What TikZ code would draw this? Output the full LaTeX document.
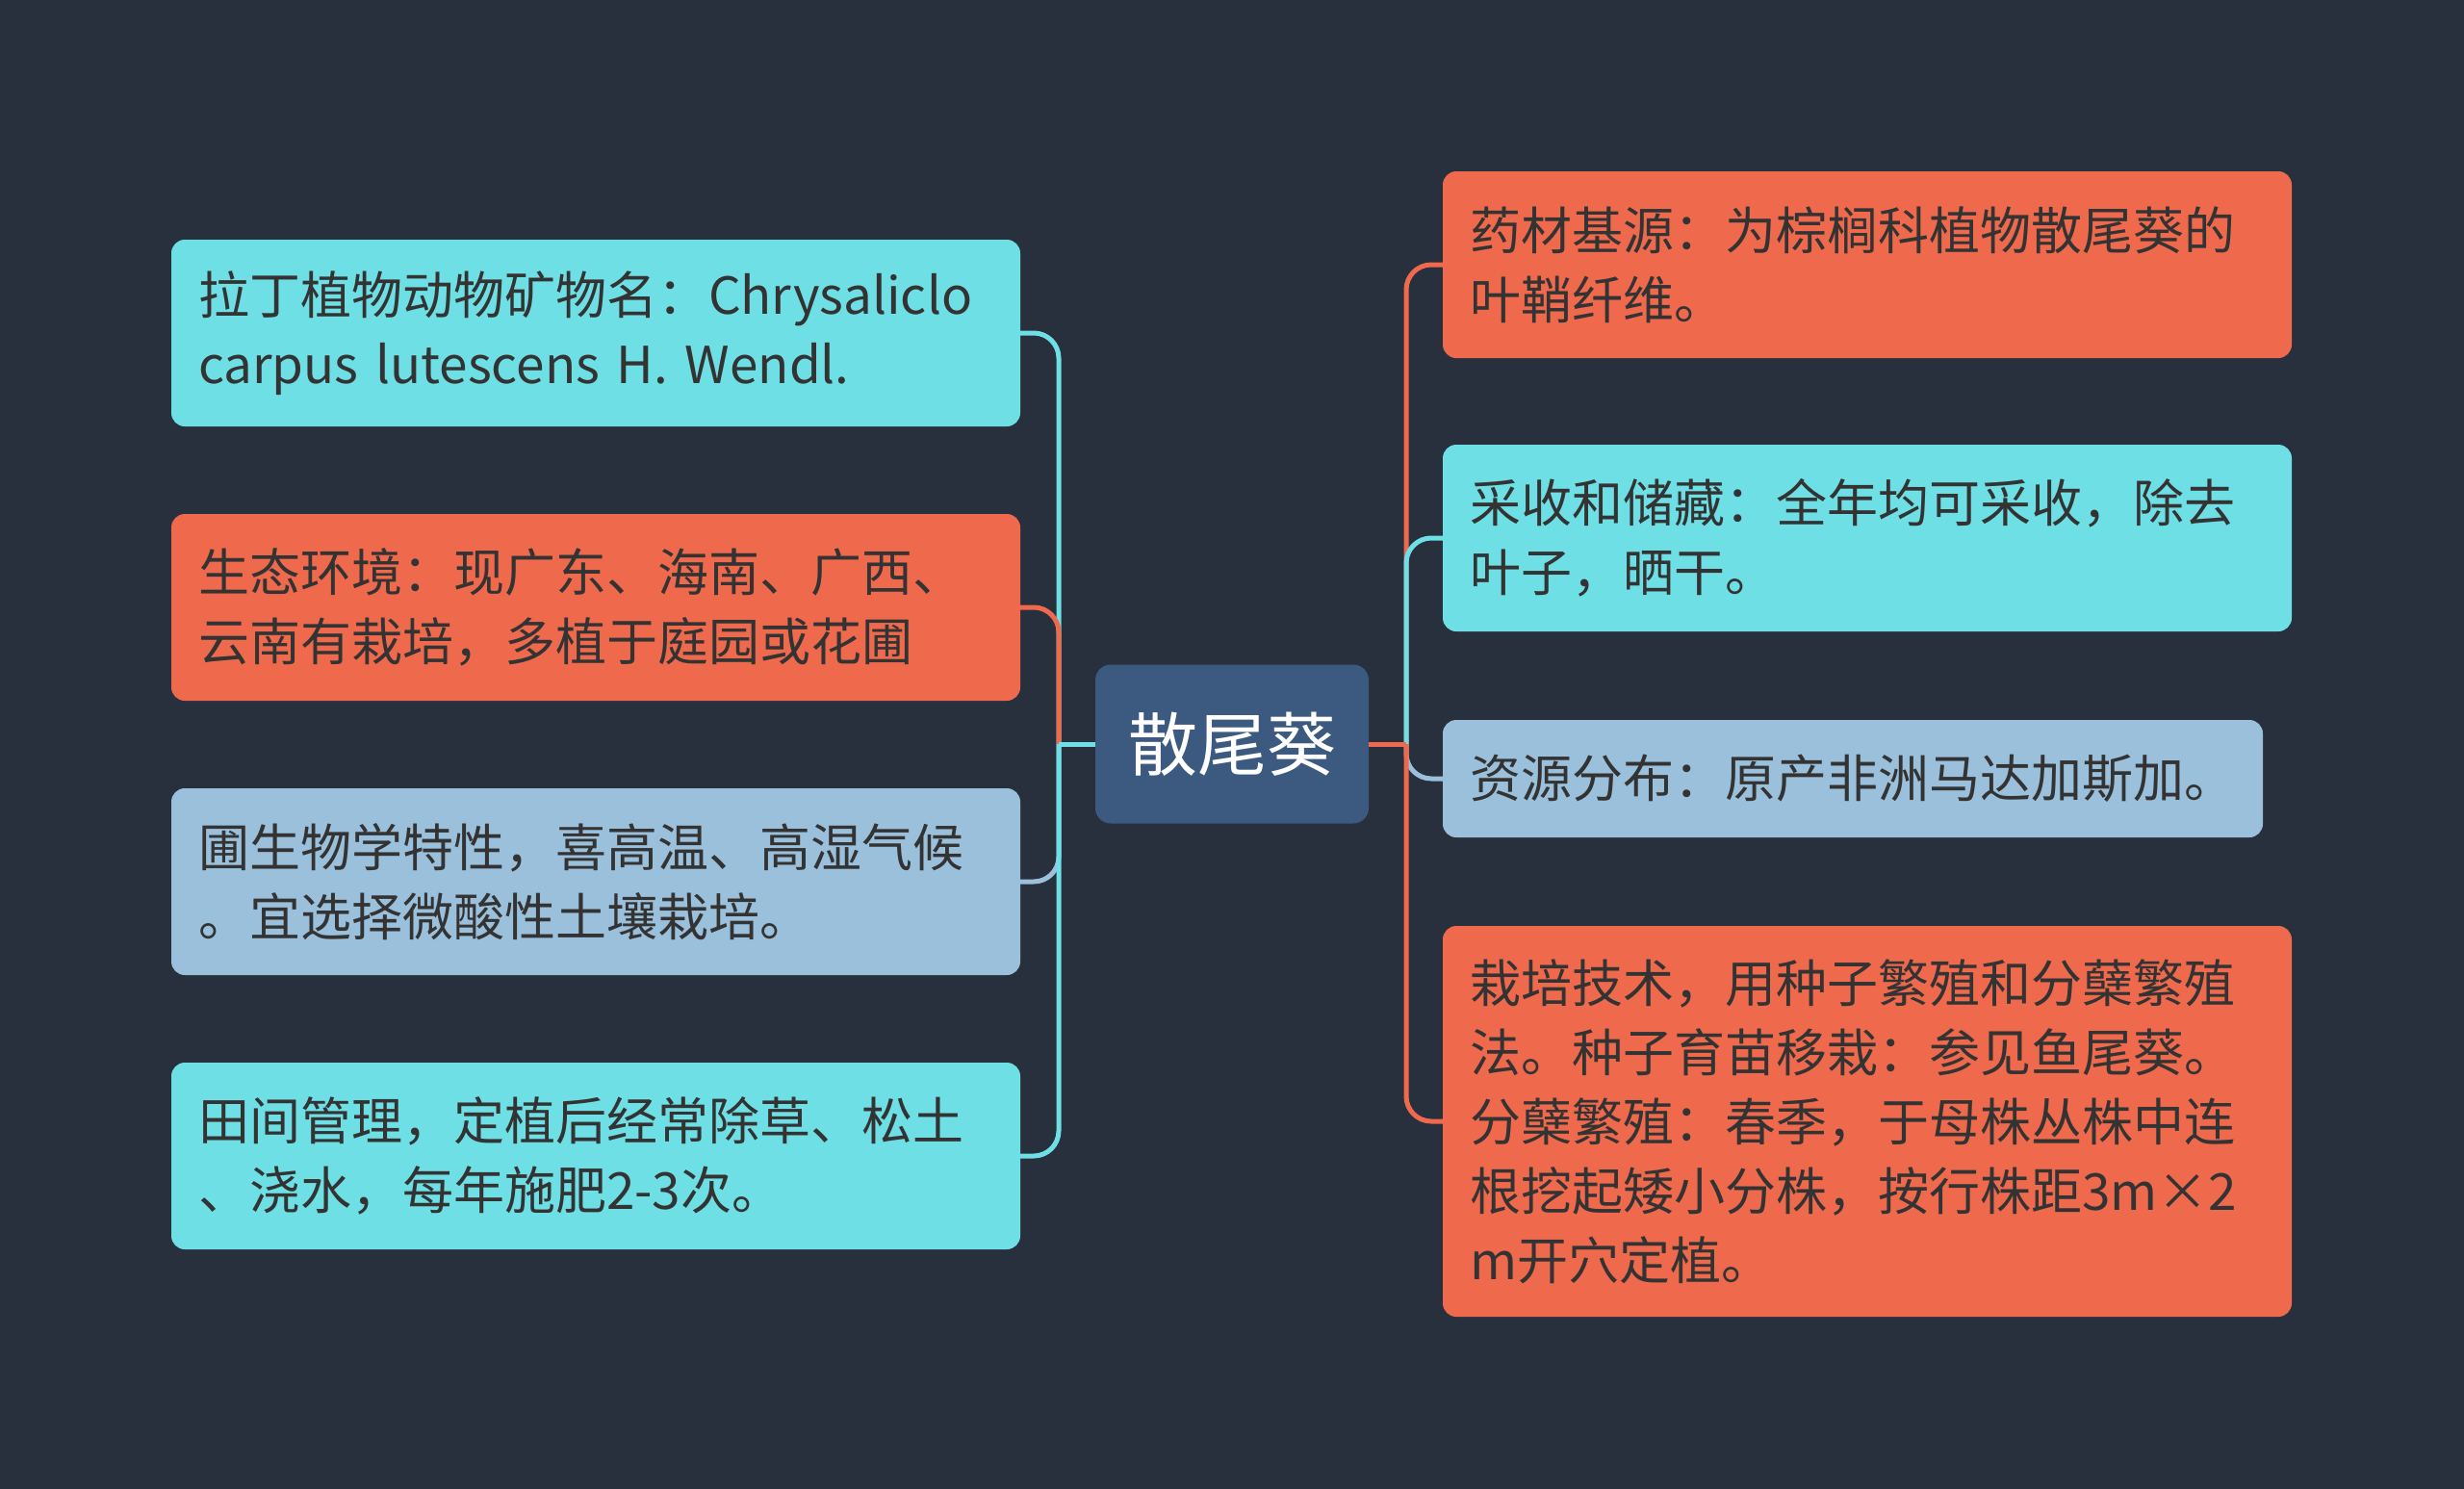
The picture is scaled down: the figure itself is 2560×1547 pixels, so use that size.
\documentclass[tikz,border=0pt]{standalone}
\usepackage{fontspec}
\setmainfont{Noto Sans CJK SC}
\definecolor{bgc}{HTML}{282F3D}
\definecolor{cyanc}{HTML}{6EDFE4}
\definecolor{orangec}{HTML}{EF6A4D}
\definecolor{bluec}{HTML}{9BC0DB}
\definecolor{centerc}{HTML}{3C5A80}
\definecolor{txtc}{HTML}{333333}
\tikzset{
  leaf/.style={rectangle, rounded corners=14pt, draw=none, minimum width=882pt, minimum height=194pt,
    text width=826pt, align=left, inner sep=0pt, text=txtc, font=\fontsize{53}{72}\selectfont},
  link/.style={line width=5pt, rounded corners=26pt},
  stem/.style={line width=5pt}
}
\begin{document}
\begin{tikzpicture}[x=1pt,y=-1pt]
\useasboundingbox[fill=bgc] (0,0) rectangle (2560,1547);
% central node
\node[rectangle, rounded corners=16pt, fill=centerc, minimum width=284pt, minimum height=165pt,
  text=white, font=\fontsize{72}{80}\selectfont] (c) at (1280,773) {散尾葵};
% junctions
\coordinate (jL) at (1100,773);
\coordinate (jR) at (1461,773);
% left nodes
\node[leaf, fill=cyanc] (l1) at (619,346) {拉丁植物动物矿物名：Chrysaliclo\\carpus lutescens H. Wendl.};
\node[leaf, fill=orangec] (l2) at (619,631) {生态环境：现广东、海南、广西、\\云南有栽培，多植于庭园或花圃};
\node[leaf, fill=bluec] (l3) at (619,916) {圃生物学特性，喜高温、高湿气候\\。宜选择微酸性土壤栽培。};
\node[leaf, fill=cyanc] (l4) at (619,1201) {田间管理，定植后经常除草、松土\\、浇水，每年施肥2-3次。};
% right nodes
\node[leaf, fill=orangec] (r1) at (1940,275) {药材基源：为棕榈科植物散尾葵的\\叶鞘纤维。};
\node[leaf, fill=cyanc] (r2) at (1940,559) {采收和储藏：全年均可采收，除去\\叶子，晒干。};
\node[leaf, fill=bluec, minimum width=852pt, minimum height=122pt, text width=796pt] (r3) at (1925,809) {资源分布：原产非洲马达加斯加。};
\node[leaf, fill=orangec, minimum height=406pt] (r4) at (1940,1165) {栽培技术，用种子繁殖和分蘖繁殖\\法。种子育苗移栽：参见鱼尾葵。\\分蘖繁殖：春季，于母株丛株中连\\根挖起矮小分株，按行株距3m×2\\m开穴定植。};
% left connectors
\draw[link, cyanc] (l1.east) -| (jL);
\draw[link, orangec] (l2.east) -| (jL);
\draw[link, bluec] (l3.east) -| (jL);
\draw[link, cyanc] (l4.east) -| (jL);
\draw[stem, cyanc] (c.west) -- (jL);
% right connectors
\draw[link, orangec] (r1.west) -| (jR);
\draw[link, cyanc] (r2.west) -| (jR);
\draw[link, bluec] (r3.west) -| (jR);
\draw[link, orangec] (r4.west) -| (jR);
\draw[stem, orangec] (c.east) -- (jR);
\end{tikzpicture}
\end{document}
